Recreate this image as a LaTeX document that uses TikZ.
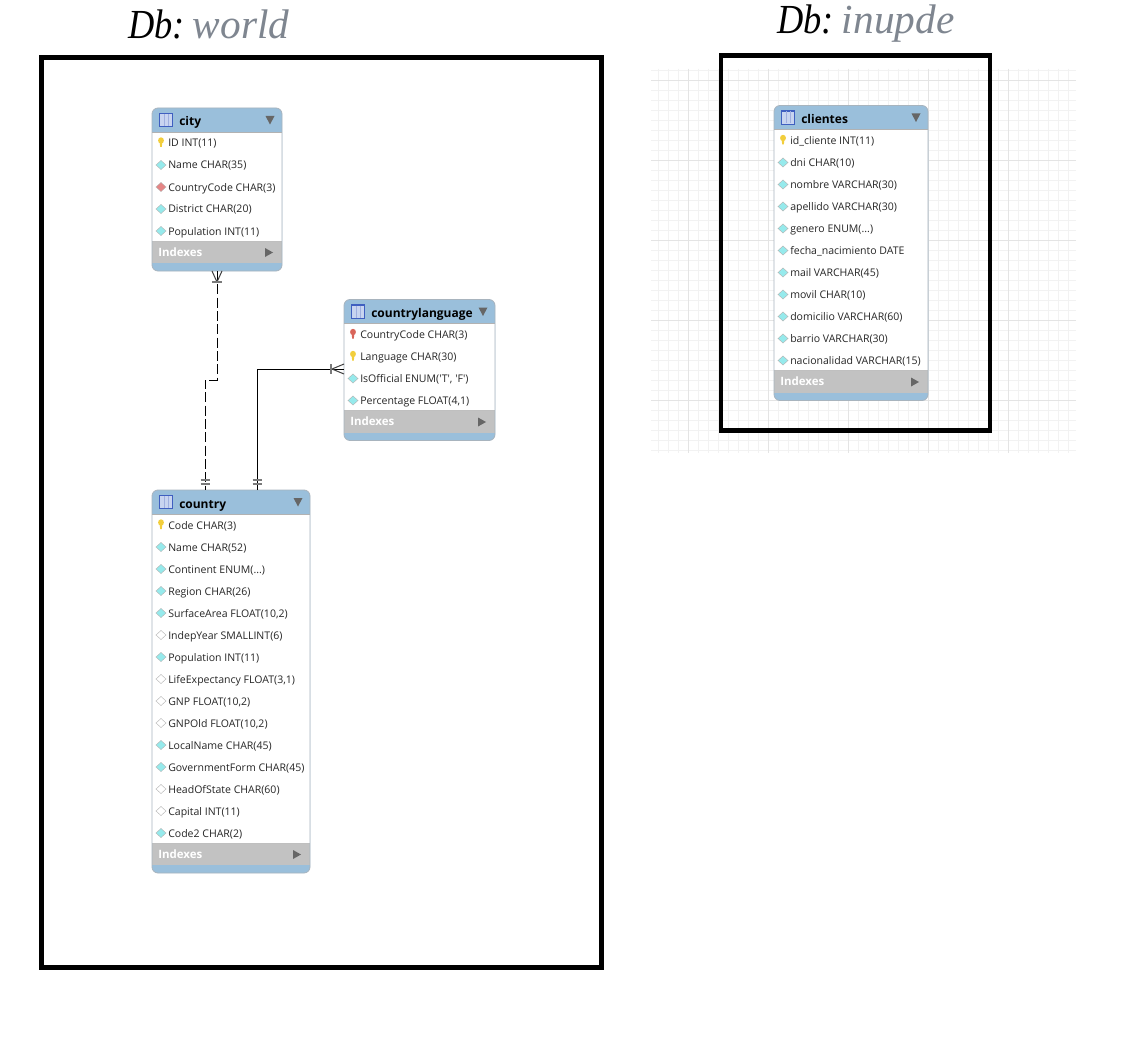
\documentclass[tikz,border=0pt]{standalone}
\usepackage{fontspec}
\setmainfont{Liberation Sans}
\newfontfamily\rowfont{Open Sans}
\newfontfamily\capfont{Liberation Serif}
\newfontfamily\capnarrow[FakeStretch=0.88]{Liberation Serif}
\usetikzlibrary{calc}
\definecolor{hdrblue}{HTML}{9ABFDB}
\definecolor{idxgrey}{HTML}{C2C2C2}
\definecolor{edgegrey}{HTML}{A8B4BE}
\definecolor{gridminor}{HTML}{F2F2F2}
\definecolor{gridmajor}{HTML}{E4E4E4}
\definecolor{dbgrey}{HTML}{7F8690}
\definecolor{keyyellow}{HTML}{F2CE3C}
\definecolor{keyred}{HTML}{D9655A}
\definecolor{diacyan}{HTML}{96EAEC}
\definecolor{diared}{HTML}{E58585}
\definecolor{iconblue}{HTML}{3F5FC0}
\definecolor{icontint}{HTML}{C8D4F0}
\definecolor{arrgrey}{HTML}{666666}
\definecolor{barsgrey}{HTML}{7A7A7A}
\tikzset{
  x=0.75pt,y=-0.75pt,
  frame/.style={draw=black,line width=3.75pt,fill=none,inner sep=0pt,outer sep=0pt,anchor=north west},
  tbl/.style={rounded corners=4.5pt,fill=hdrblue,draw=none,inner sep=0pt,outer sep=0pt,anchor=north west},
  tblborder/.style={rounded corners=4.5pt,draw=edgegrey,line width=0.6pt},
  rowtext/.style={anchor=base west,inner sep=0pt,font=\rowfont\fontsize{7.9}{9}\selectfont,text=black!85},
  tbltitle/.style={anchor=base west,inner sep=0pt,font=\rowfont\bfseries\fontsize{9}{10}\selectfont,text=black},
  idxtext/.style={anchor=base west,inner sep=0pt,font=\rowfont\bfseries\fontsize{8.6}{9}\selectfont,text=white},
  dbcap/.style={inner sep=0pt,anchor=base west,font=\capfont\itshape\fontsize{31}{34}\selectfont},
  rel/.style={black,line width=0.75pt},
  reldash/.style={rel,dash pattern=on 7.5pt off 2.5pt},
  tick/.style={black!75,line width=0.75pt},
  bartick/.style={barsgrey,line width=1.2pt},
  tri/.style={fill=arrgrey,draw=none},
}
\newcommand{\iconkey}[3]{%
  \fill[#3] (#1-1.2,#2-1) -- (#1+1.2,#2-1) -- (#1+0.9,#2+4) -- (#1-0.9,#2+4) -- cycle;
  \fill[#3] (#1,#2-2.5) ellipse [x radius=2.2pt,y radius=2.4pt];}
\newcommand{\icondia}[3]{%
  \filldraw[fill=#3,draw=black!30,line width=0.3pt] (#1-5,#2) -- (#1,#2-4.5) -- (#1+5,#2) -- (#1,#2+4.5) -- cycle;}
\newcommand{\mk}[7]{% name x y w rowcount title rowdefs
  \pgfmathsetmacro{\hh}{24+22*#5-1+22+8}
  \pgfmathsetmacro{\bt}{#3+24+22*#5-1}
  \node[tbl,minimum width=#4*0.75pt,minimum height=\hh*0.75pt] (#1) at (#2,#3) {};
  \fill[white] (#2,#3+24) rectangle (#2+#4,\bt);
  \fill[idxgrey] (#2,\bt) rectangle (#2+#4,\bt+22);
  \draw[black!30,line width=0.5pt] (#2,#3+24) -- (#2+#4,#3+24);
  \draw[black!25,line width=0.5pt] (#2,\bt) -- (#2+#4,\bt);
  \draw[tblborder] (#1.north west) rectangle (#1.south east);
  \filldraw[fill=icontint,draw=iconblue,line width=0.7pt] (#2+7.5,#3+5) rectangle (#2+20.5,#3+18.5);
  \draw[iconblue,line width=1.2pt] (#2+7.5,#3+5.5) -- (#2+20.5,#3+5.5);
  \draw[iconblue!50,line width=0.3pt] (#2+12,#3+6) -- (#2+12,#3+18) (#2+16,#3+6) -- (#2+16,#3+18);
  \node[tbltitle] (#1-title) at (#2+27,#3+18) {#6};
  \fill[tri] (#2+#4-16.5,#3+8) -- (#2+#4-7.5,#3+8) -- (#2+#4-12,#3+16.5) -- cycle;
  \node[idxtext] (#1-idx) at (#2+6,\bt+15) {Indexes};
  \fill[tri] (#2+#4-17,\bt+7) -- (#2+#4-9,\bt+11.5) -- (#2+#4-17,\bt+16) -- cycle;
  \foreach \t/\s [count=\i] in {#7}{%
    \pgfmathsetmacro{\ry}{#3+24+11+(\i-1)*22}
    \pgfmathsetmacro{\ix}{#2+9}
    \pgfmathsetmacro{\tx}{#2+16}
    \if k\t \iconkey{\ix}{\ry}{keyyellow}\fi
    \if r\t \iconkey{\ix}{\ry}{keyred}\fi
    \if d\t \icondia{\ix}{\ry}{diacyan}\fi
    \if f\t \icondia{\ix}{\ry}{diared}\fi
    \if w\t \icondia{\ix}{\ry}{white}\fi
    \node[rowtext] (#1-row\i) at (\tx,\ry+4) {\s};
  }
}
\begin{document}
\begin{tikzpicture}
\useasboundingbox (0,0) rectangle (1124,1038);
\fill[white] (0,0) rectangle (1124,1038);
% grid
\foreach \gx in {658,668,...,1076}{\draw[gridminor,line width=0.5pt] (\gx,69) -- (\gx,453);}
\foreach \gy in {70,80,...,450}{\draw[gridminor,line width=0.5pt] (651,\gy) -- (1076,\gy);}
\foreach \gx in {688,768,848,928,1008}{\draw[gridmajor,line width=0.5pt] (\gx,69) -- (\gx,453);}
\foreach \gy in {80,160,240,320,400}{\draw[gridmajor,line width=0.5pt] (651,\gy) -- (1076,\gy);}
% frames
\node[frame,minimum width=560*0.75pt,minimum height=910*0.75pt] (worldframe) at (41.5,57.5) {};
\node[frame,line width=3.5pt,minimum width=269*0.75pt,minimum height=375*0.75pt] (inupdeframe) at (721,55.5) {};
% captions
\node[dbcap] (worldcap) at (128,38.5) {{\capnarrow\itshape Db:}\kern6pt\textcolor{dbgrey}{world}};
\node[dbcap] (inupdecap) at (777,33.5) {{\capnarrow\itshape Db:}\kern6pt\textcolor{dbgrey}{inupde}};
% tables
\mk{city}{152}{108}{130}{5}{city}{k/{ID INT(11)},d/{Name CHAR(35)},f/{CountryCode CHAR(3)},d/{District CHAR(20)},d/{Population INT(11)}}
\mk{lang}{344}{299.5}{151}{4}{countrylanguage}{r/{CountryCode CHAR(3)},k/{Language CHAR(30)},d/{IsOfficial ENUM('T', 'F')},d/{Percentage FLOAT(4,1)}}
\mk{country}{152}{490}{158}{15}{country}{k/{Code CHAR(3)},d/{Name CHAR(52)},d/{Continent ENUM(...)},d/{Region CHAR(26)},d/{SurfaceArea FLOAT(10,2)},w/{IndepYear SMALLINT(6)},d/{Population INT(11)},w/{LifeExpectancy FLOAT(3,1)},w/{GNP FLOAT(10,2)},w/{GNPOld FLOAT(10,2)},d/{LocalName CHAR(45)},d/{GovernmentForm CHAR(45)},w/{HeadOfState CHAR(60)},w/{Capital INT(11)},d/{Code2 CHAR(2)}}
\mk{clientes}{774}{105.5}{154}{11}{clientes}{k/{id\_cliente INT(11)},d/{dni CHAR(10)},d/{nombre VARCHAR(30)},d/{apellido VARCHAR(30)},d/{genero ENUM(...)},d/{fecha\_nacimiento DATE},d/{mail VARCHAR(45)},d/{movil CHAR(10)},d/{domicilio VARCHAR(60)},d/{barrio VARCHAR(30)},d/{nacionalidad VARCHAR(15)}}
% connectors
\coordinate (ja) at (217,380);
\coordinate (jb) at (205,380);
\coordinate (jc) at (257,369);
\draw[reldash] (ja |- city.south) -- (ja) -- (jb) -- (jb |- country.north);
\draw[rel] (jc |- country.north) -- (jc) -- (jc -| lang.west);
% crow's feet
\draw[tick] ($(ja |- city.south)+(-5,0)$) -- ($(ja |- city.south)+(0,11)$) -- ($(ja |- city.south)+(5,0)$);
\draw[bartick] ($(ja |- city.south)+(-5,11)$) -- ($(ja |- city.south)+(5,11)$);
\draw[tick] ($(jc -| lang.west)+(0,-5)$) -- ($(jc -| lang.west)+(-12,0)$) -- ($(jc -| lang.west)+(0,5)$);
\draw[bartick] ($(jc -| lang.west)+(-13,-5)$) -- ($(jc -| lang.west)+(-13,5)$);
% one-and-only-one bars
\foreach \b in {jb,jc}{
  \draw[bartick] ($(\b |- country.north)+(-4.5,-10)$) -- ($(\b |- country.north)+(4.5,-10)$);
  \draw[bartick] ($(\b |- country.north)+(-4.5,-6)$) -- ($(\b |- country.north)+(4.5,-6)$);
}
\end{tikzpicture}
\end{document}
